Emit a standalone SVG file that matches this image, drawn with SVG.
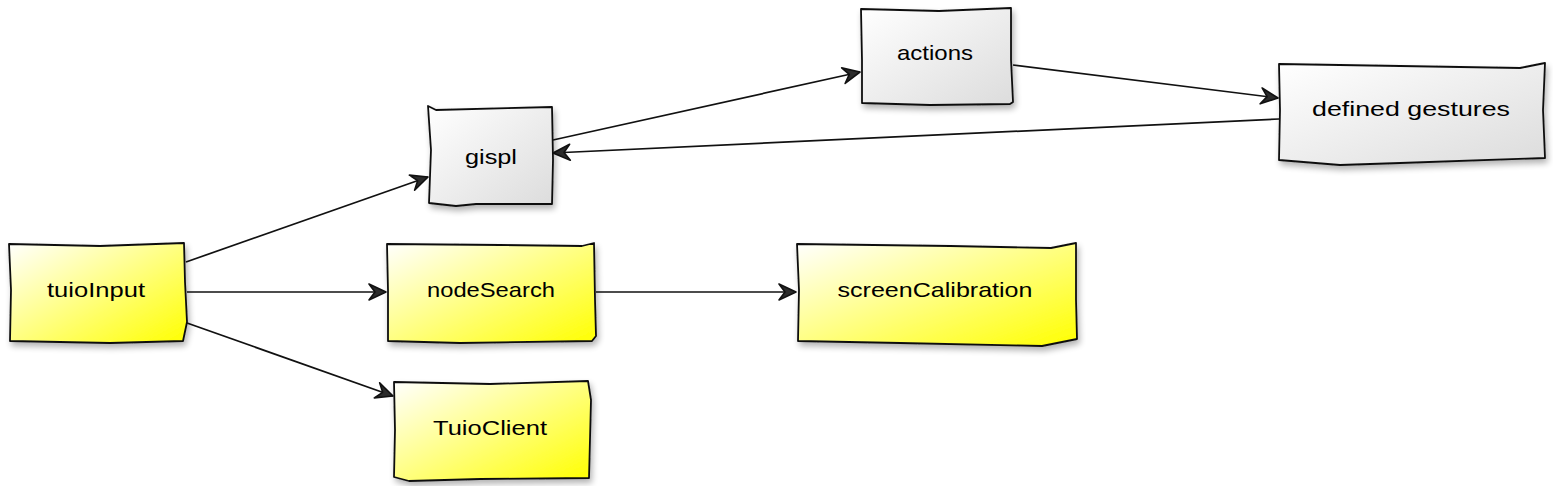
<svg xmlns="http://www.w3.org/2000/svg" width="1553" height="486" viewBox="0 0 1553 486">
<style>
.box{stroke:#111;stroke-width:1.8;stroke-linejoin:round;filter:url(#sh)}
.y{fill:url(#gy)}
.g{fill:url(#gg)}
.lbl{font-family:"Liberation Sans",Arial,sans-serif;font-size:21px;fill:#000;text-anchor:middle;dominant-baseline:central}
.edge{stroke:#111;stroke-width:1.7;fill:none;marker-end:url(#ah)}
</style>
<defs>
<linearGradient id="gy" x1="0" y1="0" x2="1" y2="1">
<stop offset="0" stop-color="#ffffff"/>
<stop offset="1" stop-color="#ffff00"/>
</linearGradient>
<linearGradient id="gg" x1="0" y1="0" x2="1" y2="1">
<stop offset="0" stop-color="#ffffff"/>
<stop offset="1" stop-color="#dcdcdc"/>
</linearGradient>
<filter id="sh" x="-10%" y="-10%" width="130%" height="140%">
<feGaussianBlur in="SourceAlpha" stdDeviation="3"/>
<feOffset dx="2" dy="4" result="b"/>
<feComponentTransfer><feFuncA type="linear" slope="0.3"/></feComponentTransfer>
<feMerge><feMergeNode/><feMergeNode in="SourceGraphic"/></feMerge>
</filter>
<marker id="ah" markerWidth="24" markerHeight="20" refX="19" refY="10" orient="auto" markerUnits="userSpaceOnUse">
<path d="M2,2 L19,10 L2,18 L8,10 Z" fill="#2a2a2a" stroke="#111" stroke-width="1.6" stroke-linejoin="round"/>
</marker>
</defs>
<g id="connectors">
<line class="edge" x1="186" y1="262" x2="428" y2="177"/>
<line class="edge" x1="187" y1="292" x2="386" y2="292"/>
<line class="edge" x1="187" y1="323" x2="393" y2="396"/>
<line class="edge" x1="553" y1="140" x2="860" y2="72"/>
<line class="edge" x1="1013" y1="65" x2="1278" y2="98"/>
<line class="edge" x1="1279" y1="119" x2="553" y2="153"/>
<line class="edge" x1="596" y1="292" x2="796" y2="292"/>
</g>
<g id="tuioInput">
<path class="box y" d="M9,244 L100,246 L184,243 L185,282 L187,322 L183,341 L110,343 L10,341 L11,290 Z"/>
<text class="lbl" x="96" y="289" textLength="98" lengthAdjust="spacingAndGlyphs">tuioInput</text>
</g>
<g id="gispl">
<path class="box g" d="M428,106 L436,110 L552,107 L553,160 L552,204 L476,204 L456,206 L429,203 L431,150 Z"/>
<text class="lbl" x="491" y="156" textLength="52" lengthAdjust="spacingAndGlyphs">gispl</text>
</g>
<g id="actions">
<path class="box g" d="M861,9 L939,11 L1011,8 L1011,60 L1013,102 L1010,104 L930,105 L862,103 L862,60 Z"/>
<text class="lbl" x="935" y="52" textLength="76" lengthAdjust="spacingAndGlyphs">actions</text>
</g>
<g id="definedGestures">
<path class="box g" d="M1279,64 L1400,66 L1520,68 L1545,63 L1543,110 L1545,158 L1400,163 L1340,165 L1279,160 L1280,110 Z"/>
<text class="lbl" x="1411" y="108" textLength="198" lengthAdjust="spacingAndGlyphs">defined gestures</text>
</g>
<g id="nodeSearch">
<path class="box y" d="M387,244 L500,245 L582,246 L594,243 L595,300 L596,336 L592,341 L460,343 L388,341 L388,290 Z"/>
<text class="lbl" x="491" y="289" textLength="128" lengthAdjust="spacingAndGlyphs">nodeSearch</text>
</g>
<g id="screenCalibration">
<path class="box y" d="M797,244 L950,246 L1051,248 L1076,243 L1076,300 L1077,339 L1042,346 L900,343 L798,341 L799,290 Z"/>
<text class="lbl" x="935" y="289" textLength="195" lengthAdjust="spacingAndGlyphs">screenCalibration</text>
</g>
<g id="TuioClient">
<path class="box y" d="M394,382 L490,384 L588,381 L591,400 L589,478 L480,479 L409,481 L394,477 L395,430 Z"/>
<text class="lbl" x="490" y="427" textLength="114" lengthAdjust="spacingAndGlyphs">TuioClient</text>
</g>
</svg>
